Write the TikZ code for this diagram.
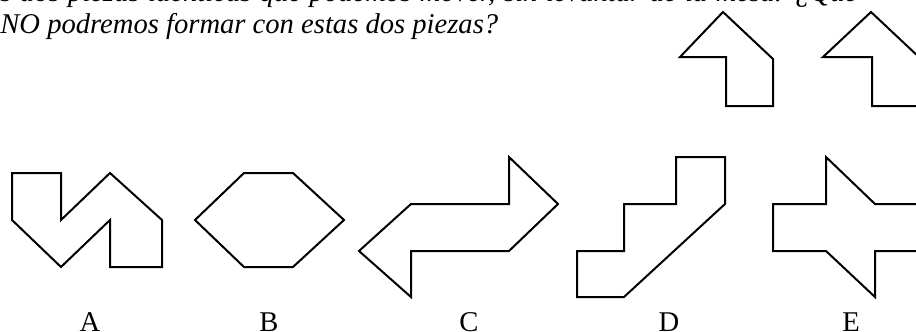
\documentclass[tikz,border=0pt]{standalone}
\usepackage{fontspec}
\setmainfont{Liberation Serif}
\usetikzlibrary{positioning}

\begin{document}
\begin{tikzpicture}[x=0.5pt, y=-0.5pt,
    piece/.style = {draw=black, line width=1pt, line join=miter},
    qtext/.style = {anchor=base west, inner sep=0pt, font=\fontsize{14.3}{16}\selectfont\itshape},
    tag/.style = {anchor=base, inner sep=0pt, font=\fontsize{14.3}{16}\selectfont}
]
\useasboundingbox (0,0) rectangle (916,332);

% Question
\node (q_one) [qtext] at (0,2) {\makebox[428.5pt][s]{s dos piezas idénticas que podemos mover, sin levantar de la mesa. ¿Qué}};
\node (q_two) [qtext] at (0,33) {NO podremos formar con estas dos piezas?};

% Given pieces
\draw [piece] (723,12) -- (773,59) -- (773,106) -- (726,106) -- (726,57) -- (680,57) -- cycle;
\draw [piece] (871,12) -- (921,59) -- (921,106) -- (872,106) -- (872,57) -- (823,57) -- cycle;

% Options
\draw [piece] (12,173) -- (61,173) -- (61,220) -- (110,173) -- (162,220) -- (162,267) -- (110,267) -- (110,220) -- (61,267) -- (12,220) -- cycle;
\draw [piece] (195,220) -- (244,173) -- (293,173) -- (344,220) -- (293,267) -- (244,267) -- cycle;
\draw [piece] (509,157) -- (558,204) -- (509,251) -- (411,251) -- (411,297) -- (359,251) -- (411,204) -- (509,204) -- cycle;
\draw [piece] (676,157) -- (725,157) -- (725,204) -- (624,297) -- (577,297) -- (577,251) -- (624,251) -- (624,204) -- (676,204) -- cycle;
\draw [piece] (826,157) -- (875,204) -- (924,204) -- (924,251) -- (875,251) -- (875,297) -- (826,251) -- (773,251) -- (773,204) -- (826,204) -- cycle;

% Labels
\node (l_a) [tag] at (90,331) {A};
\node (l_b) [tag] at (269,331) {B};
\node (l_c) [tag] at (469,331) {C};
\node (l_d) [tag] at (669,331) {D};
\node (l_e) [tag] at (851,331) {E};

\end{tikzpicture}
\end{document}
